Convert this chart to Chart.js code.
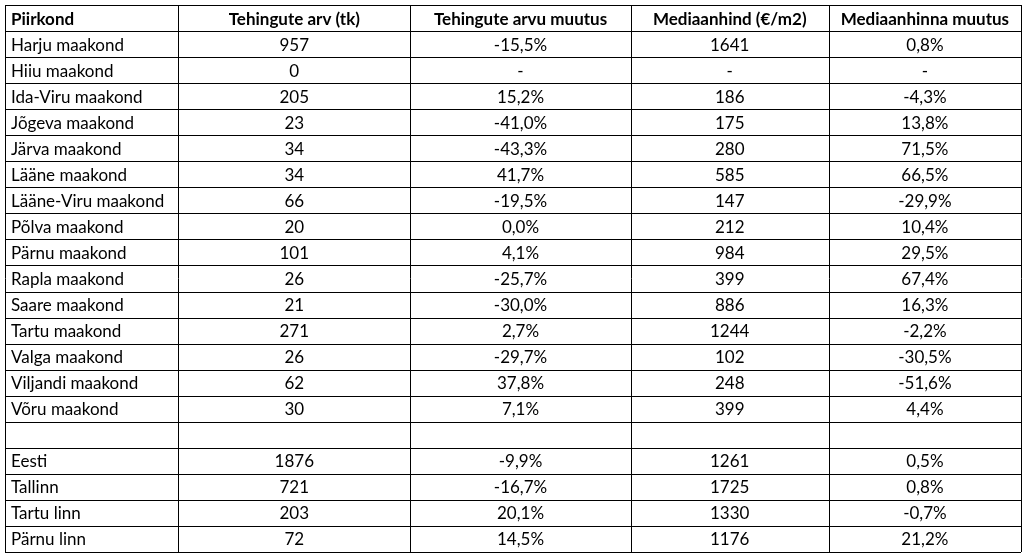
<!DOCTYPE html>
<html><head><meta charset="utf-8">
<script src="https://cdn.jsdelivr.net/npm/chart.js@4"></script>
<style>html,body{margin:0;padding:0;background:#fff}#w{width:1026px;height:558px}</style>
</head><body><div id="w"><canvas id="c"></canvas></div>
<script>
const headers = ["Piirkond","Tehingute arv (tk)","Tehingute arvu muutus","Mediaanhind (€/m2)","Mediaanhinna muutus"];
const regions = ["Harju maakond","Hiiu maakond","Ida-Viru maakond","Jõgeva maakond","Järva maakond","Lääne maakond","Lääne-Viru maakond","Põlva maakond","Pärnu maakond","Rapla maakond","Saare maakond","Tartu maakond","Valga maakond","Viljandi maakond","Võru maakond","","Eesti","Tallinn","Tartu linn","Pärnu linn"];
const deals = ["957","0","205","23","34","34","66","20","101","26","21","271","26","62","30","","1876","721","203","72"];
const dealsChange = ["-15,5%","-","15,2%","-41,0%","-43,3%","41,7%","-19,5%","0,0%","4,1%","-25,7%","-30,0%","2,7%","-29,7%","37,8%","7,1%","","-9,9%","-16,7%","20,1%","14,5%"];
const medianPrice = ["1641","-","186","175","280","585","147","212","984","399","886","1244","102","248","399","","1261","1725","1330","1176"];
const medianChange = ["0,8%","-","-4,3%","13,8%","71,5%","66,5%","-29,9%","10,4%","29,5%","67,4%","16,3%","-2,2%","-30,5%","-51,6%","4,4%","","0,5%","0,8%","-0,7%","21,2%"];
const columns = [regions, deals, dealsChange, medianPrice, medianChange];

const tablePlugin = {
  id: 'table',
  afterDraw(chart, args, opts) {
    const ctx = chart.ctx, xs = chart.scales.x, ys = chart.scales.y;
    const edges = opts.edges;
    const nRows = regions.length + 1;
    ctx.save();
    ctx.strokeStyle = '#000'; ctx.lineWidth = 1;
    for (let i = 0; i <= nRows; i++) {
      const y = Math.round(ys.getPixelForValue(i)) + 0.5;
      ctx.beginPath(); ctx.moveTo(xs.getPixelForValue(edges[0]), y); ctx.lineTo(xs.getPixelForValue(edges[edges.length-1]), y); ctx.stroke();
    }
    edges.forEach(e => {
      const x = Math.round(xs.getPixelForValue(e)) + 0.5;
      ctx.beginPath(); ctx.moveTo(x, ys.getPixelForValue(0)); ctx.lineTo(x, ys.getPixelForValue(nRows)); ctx.stroke();
    });
    ctx.fillStyle = '#000'; ctx.textBaseline = 'middle';
    for (let r = 0; r < nRows; r++) {
      const yc = ys.getPixelForValue(r + 0.5) + 1;
      for (let c = 0; c < columns.length; c++) {
        const txt = r === 0 ? headers[c] : columns[c][r - 1];
        ctx.font = (r === 0 ? 'bold ' : '') + '17px Lato';
        if (c === 0) { ctx.textAlign = 'left'; ctx.fillText(txt, xs.getPixelForValue(edges[0]) + 6, yc); }
        else { ctx.textAlign = 'center'; ctx.fillText(txt, (xs.getPixelForValue(edges[c]) + xs.getPixelForValue(edges[c+1])) / 2, yc); }
      }
    }
    ctx.restore();
  }
};

new Chart(document.getElementById('c'), {
  type: 'scatter',
  data: { datasets: [{ data: [], pointRadius: 0 }] },
  options: {
    responsive: true, maintainAspectRatio: false, animation: false,
    layout: { padding: { left: 5, right: 5, top: 5, bottom: 6 } },
    plugins: { legend: { display: false }, tooltip: { enabled: false },
      table: { edges: [0, 173, 405, 625, 823, 1015] } },
    scales: {
      x: { type: 'linear', min: 0, max: 1015, display: false },
      y: { type: 'linear', min: 0, max: 21, reverse: true, display: false }
    }
  },
  plugins: [tablePlugin]
});
</script></body></html>
